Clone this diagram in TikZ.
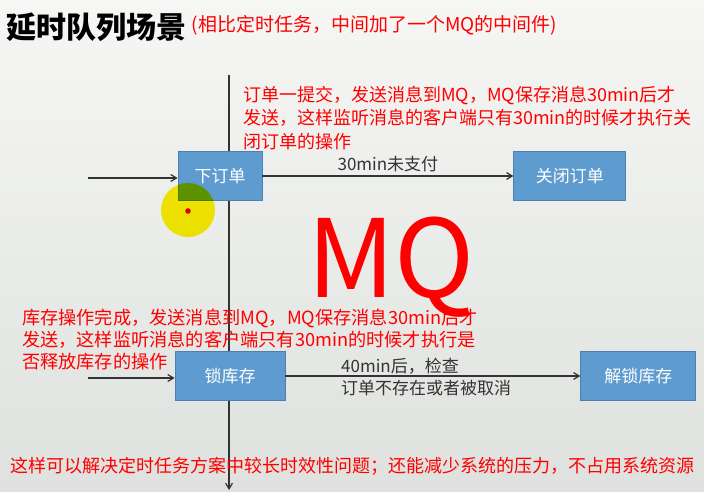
\documentclass[tikz,border=0pt]{standalone}
\usepackage{fontspec}
\setmainfont{Noto Sans CJK SC}
\usetikzlibrary{arrows.meta, positioning, backgrounds}
\definecolor{boxblue}{HTML}{5E9BCF}
\definecolor{boxedge}{HTML}{4A80B4}
\definecolor{lineg}{HTML}{333333}
\definecolor{bgtop}{HTML}{F6F7F5}
\definecolor{bgbot}{HTML}{DEE1DD}

\begin{document}
\begin{tikzpicture}[
    x=1pt, y=-1pt,
    font=\fontsize{17}{21}\selectfont,
    stage/.style={draw=boxedge, fill=boxblue, line width=0.8pt, text=white,
                  minimum height=49pt, inner sep=2pt},
    note/.style={text=red, align=left, anchor=north west, inner sep=0pt,
                 font=\fontsize{18}{23.5}\selectfont},
    lbl/.style={text=black!80, inner sep=1pt, font=\fontsize{17}{21}\selectfont},
    arr/.style={-{Straight Barb[length=2mm, width=2.4mm]}, line width=1.2pt, draw=lineg}
  ]
    \useasboundingbox[top color=bgtop, bottom color=bgbot] (0,0) rectangle (704,492);

    % heading
    \node[anchor=west, inner sep=0pt, font=\bfseries\fontsize{30}{34}\selectfont] (title) at (6,27) {延时队列场景};
    \node[right=5pt of title, inner sep=0pt, text=red, font=\fontsize{19}{23}\selectfont, yshift=2pt] (sub) {(相比定时任务，中间加了一个MQ的中间件)};

    % time axis
    \coordinate (top) at (229,75);
    \coordinate (bot) at (229,490);
    \draw[arr] (top) -- (bot);

    % order flow
    \node[stage, minimum width=84pt] (order) at (220,176) {下订单};
    \node[stage, minimum width=112pt, right=251pt of order] (close) {关闭订单};
    \coordinate (in1) at (88,178);
    \draw[arr] (in1) -- (in1 -| order.west);
    \draw[arr] (order) -- node[lbl, above, yshift=3pt] {30min未支付} (close);

    \node[note] (n1) at (243,86) {订单一提交，发送消息到MQ，MQ保存消息30min后才\\
      发送，这样监听消息的客户端只有30min的时候才执行关\\
      闭订单的操作};

    % cursor mark
    \begin{scope}[blend mode=multiply]
      \fill[yellow] (188,210) circle (27);
    \end{scope}
    \fill[red!85!black] (188,211) circle (2.8);

    \node[text=red, inner sep=0pt, font=\fontsize{108}{114}\selectfont] (mq) at (391,267) {MQ};

    % stock flow
    \node[note, font=\fontsize{18.2}{22}\selectfont] (n2) at (22,309) {库存操作完成，发送消息到MQ，MQ保存消息30min后才\\
      发送，这样监听消息的客户端只有30min的时候才执行是\\
      否释放库存的操作};

    \node[stage, minimum width=110pt] (lock) at (230,376) {锁库存};
    \node[stage, minimum width=115pt, right=295pt of lock] (unlock) {解锁库存};
    \coordinate (in2) at (88,378);
    \draw[arr] (in2) -- (in2 -| lock.west);
    \draw[arr] (lock) -- (lock -| unlock.west);
    \node[lbl, anchor=south west] (chk1) at (340,376) {40min后，检查};
    \node[lbl, anchor=north west] (chk2) at (340,379) {订单不存在或者被取消};

    \node[note, anchor=west, font=\fontsize{18}{22}\selectfont] (n3) at (10,466) {这样可以解决定时任务方案中较长时效性问题；还能减少系统的压力，不占用系统资源};
  \end{tikzpicture}
\end{document}
